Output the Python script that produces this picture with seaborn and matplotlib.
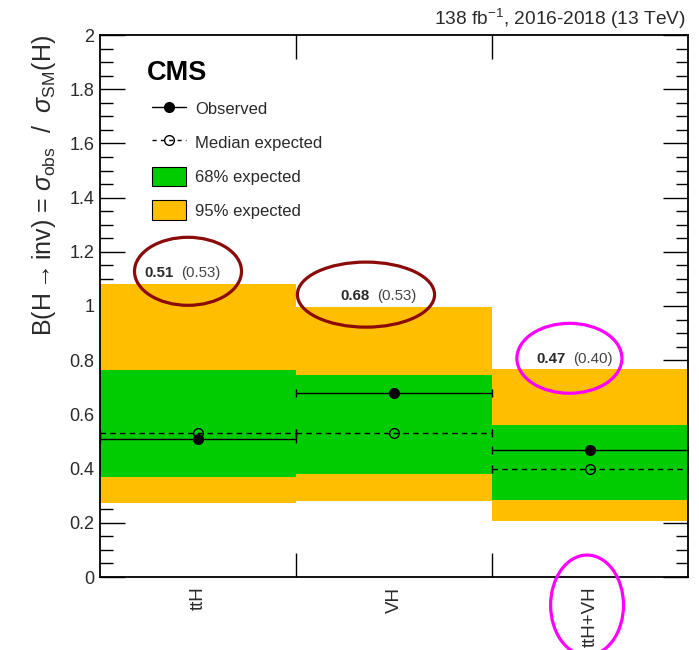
import numpy as np
import matplotlib
matplotlib.use("Agg")
import matplotlib.pyplot as plt
import seaborn as sns
from matplotlib.patches import Ellipse, Patch
from matplotlib.lines import Line2D
from matplotlib.ticker import MultipleLocator

categories = ["ttH", "VH", "ttH+VH"]
observed = [0.51, 0.68, 0.47]
expected = [0.53, 0.53, 0.40]
band68_lo = [0.370, 0.380, 0.283]
band68_hi = [0.765, 0.745, 0.562]
band95_lo = [0.274, 0.280, 0.208]
band95_hi = [1.080, 0.996, 0.766]
obs_labels = ["0.51", "0.68", "0.47"]
exp_labels = ["(0.53)", "(0.53)", "(0.40)"]

sns.set_theme(style="ticks")
plt.rcParams['font.family'] = ['Liberation Sans', 'DejaVu Sans']
plt.rcParams['mathtext.fontset'] = 'custom'
plt.rcParams['mathtext.rm'] = 'Liberation Sans'
plt.rcParams['mathtext.it'] = 'Liberation Sans:italic'
plt.rcParams['mathtext.bf'] = 'Liberation Sans:bold'

GREEN = "#00cc00"
YELLOW = "#ffbf00"
TXT = "#2a2a2a"

fig = plt.figure(figsize=(6.99, 6.5), dpi=100)
ax = fig.add_axes([100/699, 1-577/650, 588/699, 542/650])

x = np.arange(len(categories))
lo95 = np.array(band95_lo); hi95 = np.array(band95_hi)
lo68 = np.array(band68_lo); hi68 = np.array(band68_hi)
ax.bar(x, hi95 - lo95, bottom=lo95, width=1.0, color=YELLOW, linewidth=0, zorder=1)
ax.bar(x, hi68 - lo68, bottom=lo68, width=1.0, color=GREEN, linewidth=0, zorder=2)

eb = ax.errorbar(x, expected, xerr=0.5, fmt='o', mfc='none', mec='black', ms=7,
                 mew=1.0, color='black', lw=1.0, capsize=3, capthick=1.0, zorder=3)
eb[2][0].set_linestyle((0, (4, 3)))
ax.errorbar(x, observed, xerr=0.5, fmt='o', mfc='black', mec='black', ms=7,
            color='black', lw=1.0, capsize=3, capthick=1.0, zorder=4)

for i in range(len(categories)):
    ytxt = band95_hi[i] + 0.04
    ax.text(x[i] - 0.125, ytxt, obs_labels[i], ha='right', va='center',
            fontsize=10.8, fontweight='bold', color=TXT, zorder=5)
    ax.text(x[i] - 0.085, ytxt, exp_labels[i], ha='left', va='center',
            fontsize=10.8, color="#444444", zorder=5)

ax.set_xlim(-0.5, 2.5)
ax.set_ylim(0, 2)
ax.set_xticks(x)
ax.set_xticklabels(categories, rotation=90, fontsize=13.5, color=TXT, va='top')
ax.set_xticks([0.5, 1.5], minor=True)
ax.tick_params(axis='x', which='major', length=0, pad=7)
ax.tick_params(axis='x', which='minor', length=17, width=1.0, direction='in',
               top=True, bottom=True, color='black')
ax.yaxis.set_major_locator(MultipleLocator(0.2))
ax.yaxis.set_minor_locator(MultipleLocator(0.05))
ax.set_yticks(np.arange(0, 2.01, 0.2))
ax.set_yticklabels(["0", "0.2", "0.4", "0.6", "0.8", "1", "1.2", "1.4", "1.6", "1.8", "2"],
                   fontsize=13, color=TXT)
ax.tick_params(axis='y', which='major', length=18, width=1.0, direction='in',
               left=True, right=True, pad=4, color='black')
ax.tick_params(axis='y', which='minor', length=9, width=1.0, direction='in',
               left=True, right=True, color='black')
for s in ax.spines.values():
    s.set_linewidth(1.3)
    s.set_color('black')
    s.set_visible(True)
    s.set_zorder(10)

ax.set_ylabel(r"B(H$\rightarrow$inv) = $\sigma_{\rm obs}$  /  $\sigma_{\rm SM}$(H)",
              fontsize=18, color=TXT, loc='top', labelpad=8)

fig.text(686/699, 1-19/650, r"138 fb$^{-1}$, 2016-2018 (13 TeV)", ha='right',
         va='center', fontsize=13.8, color=TXT)
fig.text(147/699, 1-73/650, "CMS", ha='left', va='center', fontsize=19.5,
         fontweight='bold', color='black')

handles = [
    Line2D([], [], color='black', lw=1.0, marker='o', ms=7, mfc='black'),
    Line2D([], [], color='black', lw=1.0, ls=(0, (3, 3)), marker='o', ms=7, mfc='none'),
    Patch(facecolor=GREEN, edgecolor='black', lw=0.8),
    Patch(facecolor=YELLOW, edgecolor='black', lw=0.8),
]
labels = ["Observed", "Median expected", "68% expected", "95% expected"]
leg = ax.legend(handles, labels, loc='upper left', bbox_to_anchor=(152/699, 1-99/650),
                bbox_transform=fig.transFigure, frameon=False, fontsize=12,
                handlelength=2.05, handleheight=1.45, handletextpad=0.55,
                labelspacing=0.84, borderpad=0, borderaxespad=0)
for t in leg.get_texts():
    t.set_color(TXT)

# annotation ellipses
ell_specs = [
    (-0.051, 1.128, 0.546, 0.251, "#8b0a0a"),
    (0.857, 1.042, 0.700, 0.240, "#8b0a0a"),
    (1.895, 0.807, 0.536, 0.258, "#ff00ff"),
    (1.985, -0.104, 0.372, 0.370, "#ff00ff"),
]
for cx, cy, w, h, c in ell_specs:
    e = Ellipse((cx, cy), w, h, fill=False, edgecolor=c, lw=2.3, zorder=20, clip_on=False)
    ax.add_patch(e)

fig.savefig("out.png", dpi=100)
